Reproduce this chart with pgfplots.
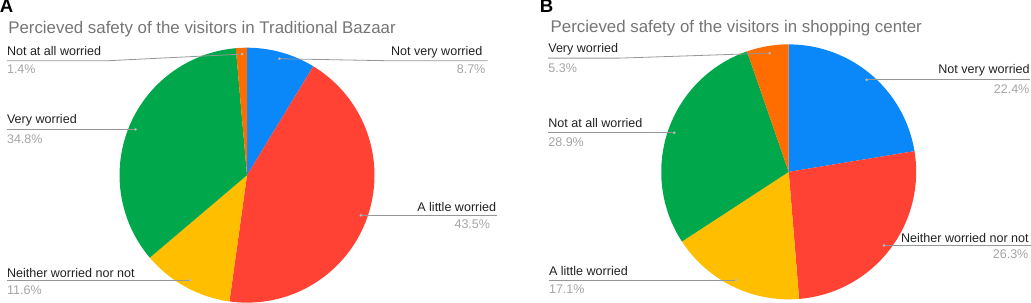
\documentclass[border=0pt]{standalone}
\usepackage{fontspec}
\setmainfont{Liberation Sans}
\usepackage{pgfplots}
\pgfplotsset{compat=1.18}
\definecolor{cblue}{RGB}{10,136,250}
\definecolor{cred}{RGB}{255,66,52}
\definecolor{cyellow}{RGB}{255,190,0}
\definecolor{cgreen}{RGB}{0,168,75}
\definecolor{corange}{RGB}{255,109,0}
\definecolor{linegray}{RGB}{150,150,150}
\definecolor{dotgray}{RGB}{185,185,185}
\definecolor{pctgray}{RGB}{165,165,165}
\definecolor{titlegray}{RGB}{117,117,117}
\definecolor{lblblack}{RGB}{33,33,33}
\newcommand{\lbl}{\fontsize{12.5bp}{14bp}\selectfont}
\newcommand{\ttl}{\fontsize{16.8bp}{20bp}\selectfont}
\newcommand{\pnl}{\fontsize{18.5bp}{20bp}\selectfont\bfseries}
% #1 cx, #2 cy, #3 cumulative percent before slice, #4 percent, #5 colour
\newcommand{\slice}[5]{%
  \addplot[fill=#5, draw=none, domain=90-3.6*(#3+#4):90-3.6*(#3), samples=100, variable=\t]
    ({#1+127*cos(\t)}, {#2+127*sin(\t)}) -- (axis cs:#1,#2) -- cycle;
}
\newcommand{\leader}[1]{%
  \addplot[linegray, line width=0.8pt] coordinates {#1};
}
\newcommand{\dotat}[1]{%
  \addplot[only marks, mark=*, mark size=1.1pt, color=dotgray] coordinates {#1};
}
\begin{document}
\begin{tikzpicture}
\begin{axis}[
  at={(0,0)}, anchor=south west,
  width=1031bp, height=307bp, scale only axis,
  xmin=0, xmax=1031, ymin=0, ymax=307,
  hide axis, clip=false,
]
% ---------------- Panel A: Traditional Bazaar ----------------
% Not very worried 8.7, A little worried 43.5, Neither 11.6, Very worried 34.8, Not at all 1.4
\slice{249.3}{128.7}{0}{8.7}{cblue}
\slice{249.3}{128.7}{8.7}{43.5}{cred}
\slice{249.3}{128.7}{52.2}{11.6}{cyellow}
\slice{249.3}{128.7}{63.8}{34.8}{cgreen}
\slice{249.3}{128.7}{98.6}{1.4}{corange}

\leader{(10,242.7) (110,242.7) (244.5,249.3)}
\dotat{(244.5,249.3)}
\leader{(281.7,244.7) (391,242.7) (489,242.7)}
\dotat{(281.7,244.7)}
\leader{(10,174.3) (138.3,174.3)}
\dotat{(138.3,174.3)}
\leader{(362.7,88.7) (498,88.7)}
\dotat{(362.7,88.7)}
\leader{(10,24.3) (192.7,24.3)}
\dotat{(192.7,24.3)}

\node[anchor=base west, inner sep=0, font=\pnl] at (axis cs:3,290.5) {A};
\node[anchor=base west, inner sep=0, font=\ttl, text=titlegray] at (axis cs:11.3,269.5) {Percieved safety of the visitors in Traditional Bazaar};

\node[anchor=base west, inner sep=0, font=\lbl, text=lblblack] at (axis cs:10,247.9) {Not at all worried};
\node[anchor=base west, inner sep=0, font=\lbl, text=pctgray] at (axis cs:10,230.3) {1.4\%};
\node[anchor=base east, inner sep=0, font=\lbl, text=lblblack] at (axis cs:484,248) {Not very worried};
\node[anchor=base east, inner sep=0, font=\lbl, text=pctgray] at (axis cs:487,230.3) {8.7\%};
\node[anchor=base west, inner sep=0, font=\lbl, text=lblblack] at (axis cs:10,179.7) {Very worried};
\node[anchor=base west, inner sep=0, font=\lbl, text=pctgray] at (axis cs:10,160.2) {34.8\%};
\node[anchor=base east, inner sep=0, font=\lbl, text=lblblack] at (axis cs:497.7,92.7) {A little worried};
\node[anchor=base east, inner sep=0, font=\lbl, text=pctgray] at (axis cs:491.7,75.2) {43.5\%};
\node[anchor=base west, inner sep=0, font=\lbl, text=lblblack] at (axis cs:10,27) {Neither worried nor not};
\node[anchor=base west, inner sep=0, font=\lbl, text=pctgray] at (axis cs:10,10.2) {11.6\%};

% ---------------- Panel B: Shopping center ----------------
% Not very worried 22.4, Neither 26.3, A little worried 17.1, Not at all 28.9, Very worried 5.3
\slice{789}{132}{0}{22.4}{cblue}
\slice{789}{132}{22.4}{26.3}{cred}
\slice{789}{132}{48.7}{17.1}{cyellow}
\slice{789}{132}{65.8}{28.9}{cgreen}
\slice{789}{132}{94.7}{5.3}{corange}

\leader{(549.3,245.3) (620,245.3) (770,250.3)}
\dotat{(770,250.3)}
\leader{(866.7,223.7) (1029.5,223.7)}
\dotat{(866.7,223.7)}
\leader{(549.3,171) (675,171)}
\dotat{(675,171)}
\leader{(884,58.7) (1030,58.7)}
\dotat{(884,58.7)}
\leader{(550,24.3) (736.7,24.3)}
\dotat{(736.7,24.3)}

\node[anchor=base west, inner sep=0, font=\pnl] at (axis cs:541,290.3) {B};
\node[anchor=base west, inner sep=0, font=\ttl, text=titlegray] at (axis cs:551.7,271.3) {Percieved safety of the visitors in shopping center};

\node[anchor=base west, inner sep=0, font=\lbl, text=lblblack] at (axis cs:549.3,251.3) {Very worried};
\node[anchor=base west, inner sep=0, font=\lbl, text=pctgray] at (axis cs:549.3,231) {5.3\%};
\node[anchor=base east, inner sep=0, font=\lbl, text=lblblack] at (axis cs:1029.3,229.7) {Not very worried};
\node[anchor=base east, inner sep=0, font=\lbl, text=pctgray] at (axis cs:1029,209.7) {22.4\%};
\node[anchor=base west, inner sep=0, font=\lbl, text=lblblack] at (axis cs:549.3,176) {Not at all worried};
\node[anchor=base west, inner sep=0, font=\lbl, text=pctgray] at (axis cs:549.3,157) {28.9\%};
\node[anchor=base east, inner sep=0, font=\lbl, text=lblblack] at (axis cs:1028.3,62) {Neither worried nor not};
\node[anchor=base east, inner sep=0, font=\lbl, text=pctgray] at (axis cs:1028,45.3) {26.3\%};
\node[anchor=base west, inner sep=0, font=\lbl, text=lblblack] at (axis cs:550,28.7) {A little worried};
\node[anchor=base west, inner sep=0, font=\lbl, text=pctgray] at (axis cs:550,11.3) {17.1\%};
\end{axis}
\end{tikzpicture}
\end{document}
